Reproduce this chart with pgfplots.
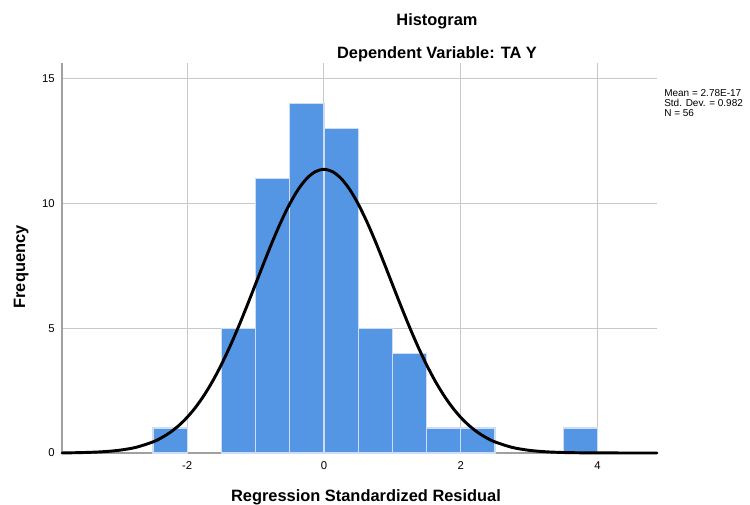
\documentclass[border=0pt]{standalone}
\usepackage{pgfplots}
\pgfplotsset{compat=1.18}
\usepackage{fontspec}
\setmainfont{Liberation Sans}
\definecolor{barblue}{RGB}{85,150,228}
\definecolor{baredge}{RGB}{205,222,244}
\definecolor{gridgray}{RGB}{200,200,200}
\definecolor{axgray}{RGB}{160,160,160}
\begin{document}
\begin{tikzpicture}
\path[use as bounding box] (-46.5pt,-39pt) rectangle (516pt,339.75pt);
\begin{axis}[
  at={(0pt,0pt)}, anchor=south west,
  scale only axis, width=446.25pt, height=292.5pt,
  xmin=-3.83, xmax=4.87, ymin=0, ymax=15.64,
  axis x line=bottom, axis y line=left,
  axis line style={-, draw=axgray, line width=1pt},
  xtick={-2,0,2,4}, xticklabels={-2,0,2,4},
  ytick={0,5,10,15}, yticklabels={0,5,10,15},
  major tick length=0pt,
  grid=major, major grid style={draw=gridgray, line width=0.75pt},
  tick label style={font=\fontsize{8.5}{10}\selectfont, text=black},
  xticklabel style={anchor=north, inner sep=0pt, yshift=-6.5pt},
  yticklabel style={anchor=east, inner sep=0pt, xshift=-5.25pt},
  xlabel={Regression Standardized Residual},
  ylabel={Frequency},
  label style={font=\fontsize{12.3}{14}\selectfont\bfseries},
  xlabel style={at={(axis description cs:0.51092,-0.12479)}, anchor=base, inner sep=0pt},
  ylabel style={at={(axis description cs:-0.06218,0.47692)}, anchor=base, inner sep=0pt},
  clip=false,
]
\addplot[ybar, bar width=0.5, bar shift=0pt, fill=barblue, draw=baredge, line width=0.9pt]
  coordinates {(-2.25,1) (-1.25,5) (-0.75,11) (-0.25,14) (0.25,13) (0.75,5) (1.25,4) (1.75,1) (2.25,1) (3.75,1)};
\addplot[smooth, black, line width=2.2pt, line cap=round] coordinates {
(-3.83,0.0004) (-3.5,0.0198) (-3.25,0.0476) (-3.0,0.107) (-2.75,0.2255) (-2.5,0.445)
(-2.375,0.611) (-2.25,0.824) (-2.125,1.094) (-2.0,1.430) (-1.875,1.838) (-1.75,2.325)
(-1.625,2.893) (-1.5,3.542) (-1.375,4.268) (-1.25,5.059) (-1.125,5.901) (-1.0,6.773)
(-0.875,7.648) (-0.75,8.498) (-0.625,9.290) (-0.5,9.992) (-0.375,10.575) (-0.25,11.012)
(-0.125,11.283) (0,11.375) (0.125,11.283) (0.25,11.012) (0.375,10.575) (0.5,9.992)
(0.625,9.290) (0.75,8.498) (0.875,7.648) (1.0,6.773) (1.125,5.901) (1.25,5.059)
(1.375,4.268) (1.5,3.542) (1.625,2.893) (1.75,2.325) (1.875,1.838) (2.0,1.430)
(2.125,1.094) (2.25,0.824) (2.375,0.611) (2.5,0.445) (2.75,0.2255) (3.0,0.107)
(3.25,0.0476) (3.5,0.0198) (3.75,0.0078) (4.0,0.0028) (4.5,0.0003) (4.87,0)
};
\end{axis}
\node[anchor=base, font=\fontsize{12.3}{14}\selectfont\bfseries, inner sep=0pt] at (281.25pt,320.5pt) {Histogram};
\node[anchor=base, font=\fontsize{12.3}{14}\selectfont\bfseries, inner sep=0pt] at (281.25pt,296pt) {Dependent Variable: TA Y};
\node[anchor=base west, font=\fontsize{7.5}{8}\selectfont, inner sep=0pt] at (451.5pt,267.2pt) {Mean = 2.78E-17};
\node[anchor=base west, font=\fontsize{7.5}{8}\selectfont, inner sep=0pt] at (451.5pt,259.6pt) {Std. Dev. = 0.982};
\node[anchor=base west, font=\fontsize{7.5}{8}\selectfont, inner sep=0pt] at (451.5pt,252.1pt) {N = 56};
\end{tikzpicture}
\end{document}
